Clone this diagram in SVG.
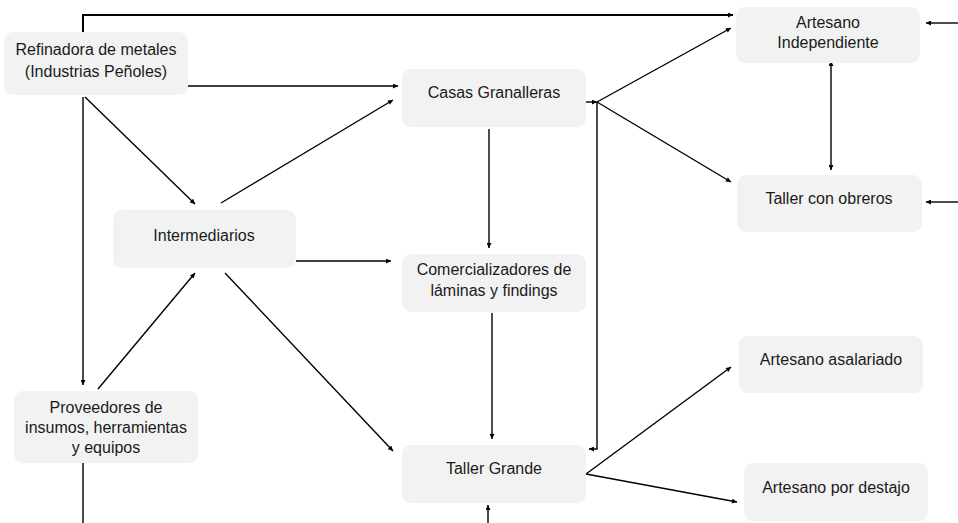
<svg xmlns="http://www.w3.org/2000/svg" width="958" height="523" viewBox="0 0 958 523">
<defs>
<marker id="ah" viewBox="0 0 10 10" refX="10" refY="5" markerWidth="6" markerHeight="5" markerUnits="userSpaceOnUse" orient="auto">
<path d="M0,0 L10,5 L0,10 z" fill="#000"/>
</marker>
<marker id="ahs" viewBox="0 0 10 10" refX="0" refY="5" markerWidth="6" markerHeight="5" markerUnits="userSpaceOnUse" orient="auto-start-reverse">
<path d="M0,0 L10,5 L0,10 z" fill="#000"/>
</marker>
</defs>
<style>
.node rect{fill:#f2f2f2;stroke:none}
.node text{font-family:"Liberation Sans",Arial,sans-serif;font-size:16px;fill:#1a1a1a;text-anchor:middle}
.c{fill:none;stroke:#000;stroke-width:1.4}
.a{marker-end:url(#ah)}
</style>
<rect width="958" height="523" fill="#fff"/>
<g id="connectors">
<path class="c a" d="M83,33 V15 H733" style="stroke-width:2"/>
<path class="c a" d="M188,86 H398"/>
<path class="c a" d="M85,97 L195,204"/>
<path class="c a" d="M83,97 V385"/>
<path class="c a" d="M221,203 L393,100"/>
<path class="c a" d="M296,261 H391"/>
<path class="c a" d="M98,389 L195,273"/>
<path class="c a" d="M225,273 L393,451"/>
<path class="c" d="M83,459 V523"/>
<path class="c a" d="M489,129 V248"/>
<path class="c a" d="M492,313 V439"/>
<path class="c a" d="M488,523 V505"/>
<path class="c a" d="M586,102 H597"/>
<path class="c a" d="M597,102 L731,28"/>
<path class="c a" d="M597,102 L731,182"/>
<path class="c a" d="M597,102 V449 H589"/>
<path class="c" d="M831,66 V170" style="marker-start:url(#ahs);marker-end:url(#ah)"/>
<path class="c a" d="M958,23 H926"/>
<path class="c a" d="M958,202 H926"/>
<path class="c a" d="M586,474 L731,367"/>
<path class="c a" d="M586,474 L737,502"/>
</g>
<g id="refinadora" class="node">
<rect x="4" y="32" width="184" height="63" rx="9"/>
<text x="96" y="55">Refinadora de metales</text>
<text x="96" y="77">(Industrias Peñoles)</text>
</g>
<g id="casas" class="node">
<rect x="402" y="69" width="184" height="58" rx="9"/>
<text x="494" y="98">Casas Granalleras</text>
</g>
<g id="intermediarios" class="node">
<rect x="113" y="210" width="183" height="58" rx="9"/>
<text x="204" y="241">Intermediarios</text>
</g>
<g id="comercializadores" class="node">
<rect x="402" y="254" width="184" height="58" rx="9"/>
<text x="494" y="275">Comercializadores de</text>
<text x="494" y="296">láminas y findings</text>
</g>
<g id="proveedores" class="node">
<rect x="14" y="391" width="184" height="72" rx="9"/>
<text x="106" y="413">Proveedores de</text>
<text x="106" y="433">insumos, herramientas</text>
<text x="106" y="453">y equipos</text>
</g>
<g id="tallergrande" class="node">
<rect x="402" y="445" width="184" height="58" rx="9"/>
<text x="494" y="474">Taller Grande</text>
</g>
<g id="artesanoindep" class="node">
<rect x="736" y="7" width="184" height="56" rx="9"/>
<text x="828" y="28">Artesano</text>
<text x="828" y="48">Independiente</text>
</g>
<g id="tallerobreros" class="node">
<rect x="737" y="175" width="185" height="57" rx="9"/>
<text x="829" y="204">Taller con obreros</text>
</g>
<g id="asalariado" class="node">
<rect x="739" y="336" width="184" height="57" rx="9"/>
<text x="831" y="365">Artesano asalariado</text>
</g>
<g id="destajo" class="node">
<rect x="744" y="463" width="184" height="58" rx="9"/>
<text x="836" y="493">Artesano por destajo</text>
</g>
</svg>
